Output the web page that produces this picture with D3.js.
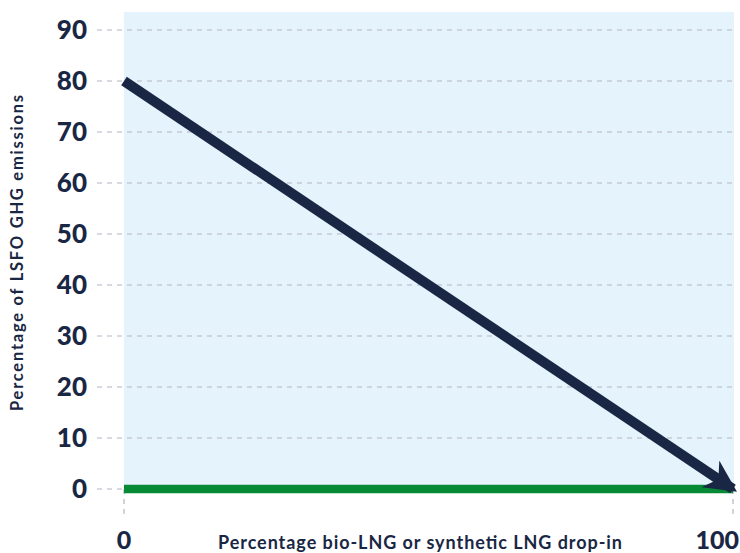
<!DOCTYPE html>
<html><head><meta charset="utf-8">
<script src="https://cdn.jsdelivr.net/npm/d3@7"></script>
<style>body{margin:0;background:#fff}svg{display:block}</style>
</head><body>
<svg id="c" width="740" height="553"></svg>
<script>
const lineX = [0, 100];
const lineY = [80, 0];
const baseX = [0, 100];
const baseY = [0, 0];
const yTicks = [0,10,20,30,40,50,60,70,80,90];
const xTicks = [0,100];
const xTitle = "Percentage bio-LNG or synthetic LNG drop-in";
const yTitle = "Percentage of LSFO GHG emissions";

const navy = "#1a2744";
const svg = d3.select("#c");
const x = d3.scaleLinear().domain([0,100]).range([124,733]);
const y = d3.scaleLinear().domain([0,90]).range([489,30]);
const font = "Lato, 'Noto Sans', sans-serif";

// background
svg.append("rect").attr("x", x(0)).attr("y", y(93.5)).attr("width", x(100)-x(0)+1).attr("height", y(0)-y(93.5)).attr("fill","#e5f3fd");

// grid
svg.append("g").selectAll("line").data(yTicks).join("line")
  .attr("x1", 97).attr("x2", x(100)).attr("y1", d=>y(d)).attr("y2", d=>y(d))
  .attr("stroke","#b3b6c3").attr("stroke-width",1.2).attr("stroke-dasharray","5,5");
svg.append("g").selectAll("line").data(xTicks).join("line")
  .attr("x1", d=>x(d)).attr("x2", d=>x(d)).attr("y1", y(0)).attr("y2", 518)
  .attr("stroke","#b3b6c3").attr("stroke-width",1.2).attr("stroke-dasharray","5,5");

// y labels
svg.append("g").selectAll("text").data(yTicks).join("text")
  .attr("x", 87).attr("y", d=>y(d)).attr("dy","0.36em").attr("text-anchor","end")
  .attr("font-family",font).attr("font-weight",900).attr("font-size",26).attr("fill",navy).text(d=>d);
// x labels
svg.append("g").selectAll("text").data(xTicks).join("text")
  .attr("x", d=> d===100 ? 739 : x(d)).attr("y", 549)
  .attr("text-anchor", d=> d===100 ? "end" : "middle")
  .attr("font-family",font).attr("font-weight",900).attr("font-size",25).attr("fill",navy).text(d=>d);

// green baseline
svg.append("path").datum(baseX.map((d,i)=>[d,baseY[i]]))
  .attr("d", d3.line().x(d=>x(d[0])).y(d=>y(d[1])))
  .attr("stroke","#068a36").attr("stroke-width",8.5).attr("fill","none");

// arrow
svg.append("defs").append("marker").attr("id","ah").attr("viewBox","0 0 10 10")
  .attr("refX",8.5).attr("refY",5).attr("markerWidth",3.2).attr("markerHeight",3.2)
  .attr("orient","auto").attr("markerUnits","strokeWidth")
  .append("path").attr("d","M0,0 L10,5 L0,10 L3,5 Z").attr("fill",navy);
const pts = lineX.map((d,i)=>[d,lineY[i]]);
svg.append("path").datum(pts)
  .attr("d", d3.line().x(d=>x(d[0])).y(d=>y(d[1])))
  .attr("stroke",navy).attr("stroke-width",10).attr("fill","none")
  .attr("marker-end","url(#ah)");

// titles
svg.append("text").attr("x",420).attr("y",549).attr("text-anchor","middle")
  .attr("font-family",font).attr("font-weight",700).attr("font-size",18).attr("fill",navy)
  .attr("textLength",404).attr("lengthAdjust","spacing").text(xTitle);
svg.append("text").attr("transform","translate(17,253) rotate(-90)").attr("dy","0.36em").attr("text-anchor","middle")
  .attr("font-family",font).attr("font-weight",700).attr("font-size",16.5).attr("fill",navy)
  .attr("textLength",316).attr("lengthAdjust","spacing").text(yTitle);
</script>
</body></html>
